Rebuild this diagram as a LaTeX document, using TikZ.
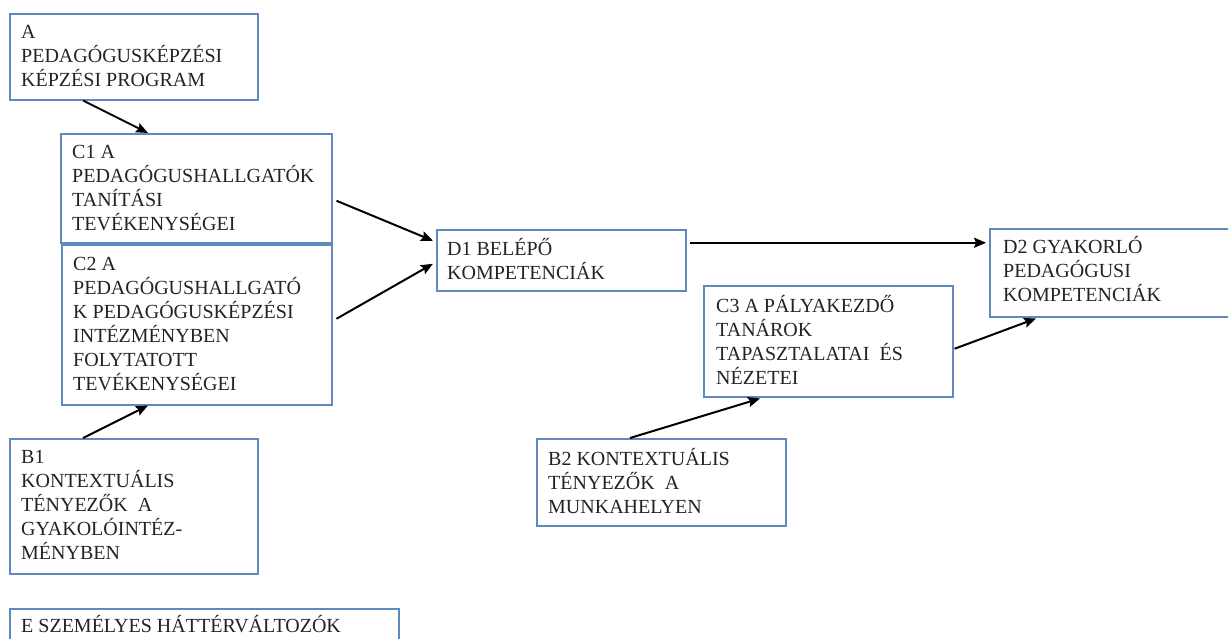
\documentclass[tikz,border=0pt]{standalone}
\usepackage{fontspec}
\setmainfont{Liberation Serif}
\usepackage{tikz}
\usetikzlibrary{arrows.meta}
\definecolor{boxblue}{RGB}{96,138,190}
\definecolor{txtgray}{RGB}{35,35,35}
\newcommand{\firstln}{\rule{0pt}{19pt}}

\begin{document}
\begin{tikzpicture}[x=1pt,y=-1pt]
        \useasboundingbox (0,0) rectangle (1228,638);
        \tikzstyle{box} = [draw=boxblue,line width=1.5pt,inner sep=0pt,anchor=north west]
        \tikzstyle{txt} = [anchor=north west,align=left,inner sep=0pt,text=txtgray,font=\fontsize{20}{24}\selectfont]
        \tikzstyle{link} = [line width=2pt,-{Stealth[length=12pt,width=10pt,inset=2pt]}]
        \node[box,minimum width=248pt,minimum height=86pt] (boxA) at (9,13) {};
        \node[box,minimum width=271pt,minimum height=109pt] (boxC1) at (60,133) {};
        \node[box,minimum width=270pt,minimum height=160pt] (boxC2) at (61,244) {};
        \node[box,minimum width=248pt,minimum height=135pt] (boxB1) at (9,438) {};
        \node[box,minimum width=389pt,minimum height=60pt] (boxE) at (9,608) {};
        \node[box,minimum width=249pt,minimum height=61pt] (boxD1) at (436,229) {};
        \node[box,minimum width=249pt,minimum height=111pt] (boxC3) at (703,285) {};
        \node[box,minimum width=249pt,minimum height=87pt] (boxB2) at (536,438) {};
        \node[box,minimum width=260pt,minimum height=88pt] (boxD2) at (989,228) {};
        \node[txt] (txtA) at ([xshift=12pt,yshift=-6pt]boxA.north west) {\firstln A\\PEDAGÓGUSKÉPZÉSI\\KÉPZÉSI PROGRAM};
        \node[txt] (txtC1) at ([xshift=12pt,yshift=-6pt]boxC1.north west) {\firstln C1 A\\PEDAGÓGUSHALLGATÓK\\TANÍTÁSI\\TEVÉKENYSÉGEI};
        \node[txt] (txtC2) at ([xshift=12pt,yshift=-7pt]boxC2.north west) {\firstln C2 A\\PEDAGÓGUSHALLGATÓ\\K PEDAGÓGUSKÉPZÉSI\\INTÉZMÉNYBEN\\FOLYTATOTT\\TEVÉKENYSÉGEI};
        \node[txt] (txtB1) at ([xshift=12pt,yshift=-6pt]boxB1.north west) {\firstln B1\\KONTEXTUÁLIS\\TÉNYEZŐK~ A\\GYAKOLÓINTÉZ-\\MÉNYBEN};
        \node[txt] (txtE) at ([xshift=12pt,yshift=-5pt]boxE.north west) {\firstln E SZEMÉLYES HÁTTÉRVÁLTOZÓK};
        \node[txt] (txtD1) at ([xshift=11pt,yshift=-7pt]boxD1.north west) {\firstln D1 BELÉPŐ\\KOMPETENCIÁK};
        \node[txt] (txtC3) at ([xshift=13pt,yshift=-8pt]boxC3.north west) {\firstln C3 A PÁLYAKEZDŐ\\TANÁROK\\TAPASZTALATAI~ ÉS\\NÉZETEI};
        \node[txt] (txtB2) at ([xshift=12pt,yshift=-8pt]boxB2.north west) {\firstln B2 KONTEXTUÁLIS\\TÉNYEZŐK~ A\\MUNKAHELYEN};
        \node[txt] (txtD2) at ([xshift=14pt,yshift=-6pt]boxD2.north west) {\firstln D2 GYAKORLÓ\\PEDAGÓGUSI\\KOMPETENCIÁK};
        \draw[link] ([xshift=74pt]boxA.south west)--([xshift=88pt]boxC1.north west);
        \draw[link] ([xshift=4pt,yshift=-12.5pt]boxC1.east)--([xshift=-3pt,yshift=19.5pt]boxD1.west);
        \draw[link] ([xshift=4pt,yshift=6pt]boxC2.east)--([xshift=-3pt,yshift=-3.5pt]boxD1.west);
        \draw[link] ([xshift=74pt]boxB1.north west)--([xshift=87pt]boxC2.south west);
        \draw[link] ([xshift=3pt,yshift=17.5pt]boxD1.east)--([xshift=-3pt,yshift=30pt]boxD2.west);
        \draw[link] ([xshift=94pt]boxB2.north west)--([xshift=57pt,yshift=-1pt]boxC3.south west);
        \draw[link] ([xshift=1pt,yshift=-7.5pt]boxC3.east)--([xshift=47pt,yshift=-1pt]boxD2.south west);
       \end{tikzpicture}
\end{document}
